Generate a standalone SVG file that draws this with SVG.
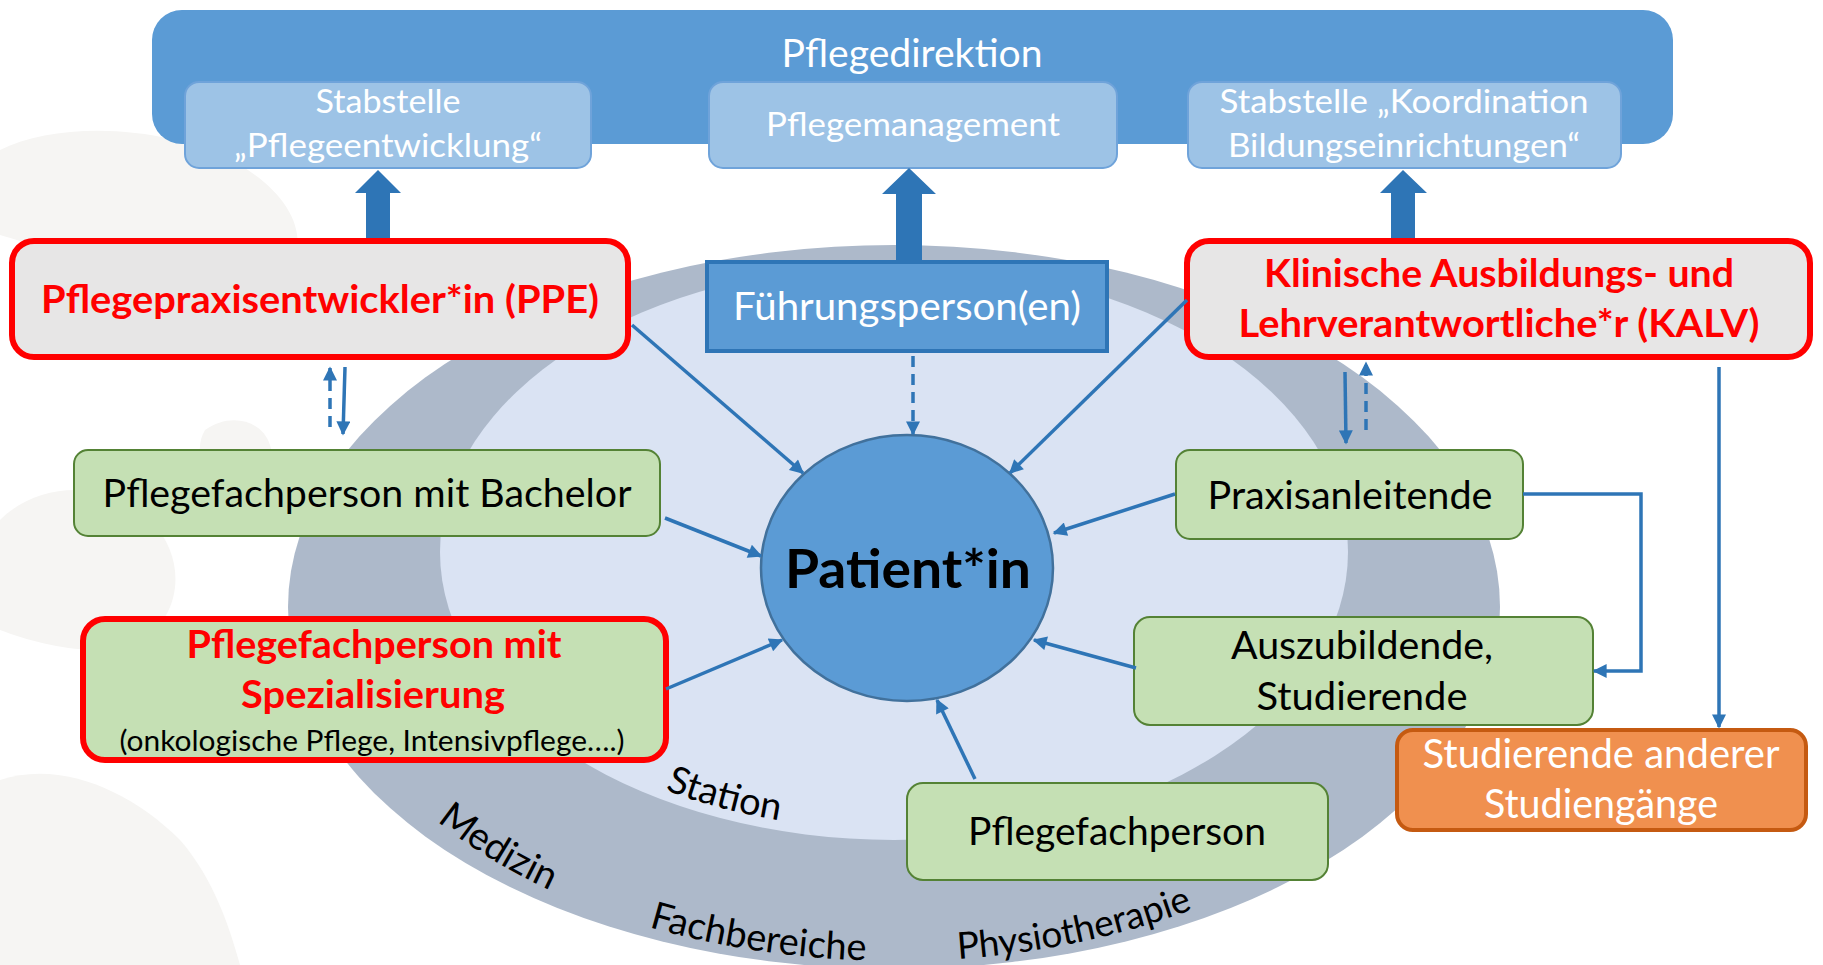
<svg xmlns="http://www.w3.org/2000/svg" width="1823" height="965" viewBox="0 0 1823 965">
<style>
  text { font-family: Lato, "Liberation Sans", sans-serif; }
  .w { fill: #ffffff; }
  .k { fill: #000000; }
  .r { fill: #FF0000; font-weight: bold; }
  .sub { fill: #9DC3E6; stroke: #6FA3DA; stroke-width: 2; }
  .green { fill: #C5E0B4; stroke: #548235; stroke-width: 2; }
  .redbox { fill: #E7E6E6; stroke: #FF0000; stroke-width: 6; }
  .redgreen { fill: #C5E0B4; stroke: #FF0000; stroke-width: 6; }
  .con { fill: none; stroke: #2E75B6; stroke-width: 3.5; marker-end: url(#ah); }
  .dash { stroke-dasharray: 11 7; }
  .thick { fill: #2E75B6; }
  .ring { fill: #000000; font-size: 38px; }
</style>
<defs>
  <marker id="ah" viewBox="0 0 10 10" refX="9" refY="5" markerWidth="17" markerHeight="14" markerUnits="userSpaceOnUse" orient="auto">
    <path d="M0,0 L10,5 L0,10 z" fill="#2E75B6"/>
  </marker>
  <path id="pStation" d="M 665 790 A 446 278 0 0 0 900 830"/>
  <path id="pMedizin" d="M 437 821 A 575 356 0 0 0 894 961"/>
  <path id="pFach" d="M 649 927 A 575 356 0 0 0 1100 937"/>
  <path id="pPhysio" d="M 958 959 A 575 356 0 0 0 1300 857"/>
</defs>
<rect width="1823" height="965" fill="#ffffff"/>
<g id="watermark" fill="#F6F5F3">
  <path d="M0 150 C60 120 170 125 240 165 C290 195 310 235 290 270 C230 250 160 240 100 250 C50 255 20 240 0 235 Z"/>
  <path d="M0 520 C40 480 110 480 150 520 C190 560 180 620 140 640 C100 660 40 645 0 630 Z"/>
  <path d="M0 780 C60 760 130 790 180 840 C215 880 230 930 240 965 L0 965 Z"/>
  <path d="M205 430 C230 412 262 420 270 445 C278 470 255 492 230 485 C205 478 192 452 205 430 Z"/>
</g>
<g id="ring">
  <ellipse cx="894" cy="607" rx="606" ry="362" fill="#ADB9CA"/>
  <ellipse cx="894" cy="552" rx="454" ry="288" fill="#DAE3F3"/>
  <text class="ring"><textPath href="#pStation">Station</textPath></text>
  <text class="ring"><textPath href="#pMedizin">Medizin</textPath></text>
  <text class="ring"><textPath href="#pFach">Fachbereiche</textPath></text>
  <text class="ring" style="font-size:37px"><textPath href="#pPhysio">Physiotherapie</textPath></text>
</g>
<g id="pflegedirektion">
  <rect x="152" y="10" width="1521" height="134" rx="30" fill="#5B9BD5"/>
  <text class="w" x="912" y="67" font-size="39" text-anchor="middle" textLength="261" lengthAdjust="spacingAndGlyphs">Pflegedirektion</text>
</g>
<g id="stabstelle-pflegeentwicklung">
  <rect class="sub" x="185" y="82" width="406" height="86" rx="14"/>
  <text class="w" x="388" y="113" font-size="33" text-anchor="middle" textLength="145" lengthAdjust="spacingAndGlyphs">Stabstelle</text>
  <text class="w" x="388" y="157" font-size="33" text-anchor="middle" textLength="308" lengthAdjust="spacingAndGlyphs">„Pflegeentwicklung“</text>
</g>
<g id="pflegemanagement">
  <rect class="sub" x="709" y="82" width="408" height="86" rx="14"/>
  <text class="w" x="913" y="136" font-size="33" text-anchor="middle" textLength="294" lengthAdjust="spacingAndGlyphs">Pflegemanagement</text>
</g>
<g id="stabstelle-koordination">
  <rect class="sub" x="1188" y="82" width="433" height="86" rx="14"/>
  <text class="w" x="1404" y="113" font-size="33" text-anchor="middle" textLength="369" lengthAdjust="spacingAndGlyphs">Stabstelle „Koordination</text>
  <text class="w" x="1404" y="157" font-size="33" text-anchor="middle" textLength="352" lengthAdjust="spacingAndGlyphs">Bildungseinrichtungen“</text>
</g>
<g id="thick-arrows">
  <polygon class="thick" points="366,240 366,193 355,193 378,170 401,193 390,193 390,240"/>
  <polygon class="thick" points="896,262 896,194 882,194 909,168 936,194 922,194 922,262"/>
  <polygon class="thick" points="1391,240 1391,193 1380,193 1403,170 1427,193 1415,193 1415,240"/>
</g>
<g id="ppe">
  <rect class="redbox" x="12" y="241" width="616" height="116" rx="22"/>
  <text class="r" x="320" y="313" font-size="39" text-anchor="middle" textLength="558" lengthAdjust="spacingAndGlyphs">Pflegepraxisentwickler*in (PPE)</text>
</g>
<g id="fuehrungspersonen">
  <rect x="707" y="262" width="400" height="89" fill="#5B9BD5" stroke="#2E75B6" stroke-width="4"/>
  <text class="w" x="907" y="320" font-size="39" text-anchor="middle" textLength="348" lengthAdjust="spacingAndGlyphs">Führungsperson(en)</text>
</g>
<g id="kalv">
  <rect class="redbox" x="1187" y="241" width="623" height="116" rx="22"/>
  <text class="r" x="1499" y="287" font-size="39" text-anchor="middle" textLength="470" lengthAdjust="spacingAndGlyphs">Klinische Ausbildungs- und</text>
  <text class="r" x="1499" y="337" font-size="39" text-anchor="middle" textLength="521" lengthAdjust="spacingAndGlyphs">Lehrverantwortliche*r (KALV)</text>
</g>
<g id="bachelor">
  <rect class="green" x="74" y="450" width="586" height="86" rx="14"/>
  <text class="k" x="367" y="507" font-size="39" text-anchor="middle" textLength="529" lengthAdjust="spacingAndGlyphs">Pflegefachperson mit Bachelor</text>
</g>
<g id="spezialisierung">
  <rect class="redgreen" x="83" y="619" width="583" height="141" rx="22"/>
  <text class="r" x="374" y="658" font-size="39" text-anchor="middle" textLength="375" lengthAdjust="spacingAndGlyphs">Pflegefachperson mit</text>
  <text class="r" x="373" y="708" font-size="39" text-anchor="middle" textLength="264" lengthAdjust="spacingAndGlyphs">Spezialisierung</text>
  <text class="k" x="372" y="751" font-size="29" text-anchor="middle" textLength="505" lengthAdjust="spacingAndGlyphs">(onkologische Pflege, Intensivpflege….)</text>
</g>
<g id="patient">
  <ellipse cx="907" cy="568" rx="146" ry="133" fill="#5B9BD5" stroke="#41719C" stroke-width="2.5"/>
  <text class="k" x="908" y="588" font-size="54" font-weight="bold" text-anchor="middle" textLength="246" lengthAdjust="spacingAndGlyphs">Patient*in</text>
</g>
<g id="praxisanleitende">
  <rect class="green" x="1176" y="450" width="347" height="89" rx="14"/>
  <text class="k" x="1350" y="509" font-size="39" text-anchor="middle" textLength="285" lengthAdjust="spacingAndGlyphs">Praxisanleitende</text>
</g>
<g id="auszubildende">
  <rect class="green" x="1134" y="617" width="459" height="108" rx="16"/>
  <text class="k" x="1362" y="659" font-size="39" text-anchor="middle" textLength="262" lengthAdjust="spacingAndGlyphs">Auszubildende,</text>
  <text class="k" x="1362" y="710" font-size="39" text-anchor="middle" textLength="211" lengthAdjust="spacingAndGlyphs">Studierende</text>
</g>
<g id="pflegefachperson">
  <rect class="green" x="907" y="783" width="421" height="97" rx="16"/>
  <text class="k" x="1117" y="845" font-size="39" text-anchor="middle" textLength="298" lengthAdjust="spacingAndGlyphs">Pflegefachperson</text>
</g>
<g id="studierende-anderer">
  <rect x="1397" y="730" width="409" height="100" rx="16" fill="#F0904F" stroke="#C55A11" stroke-width="4"/>
  <text class="w" x="1601" y="768" font-size="40" text-anchor="middle" textLength="357" lengthAdjust="spacingAndGlyphs">Studierende anderer</text>
  <text class="w" x="1601" y="818" font-size="40" text-anchor="middle" textLength="234" lengthAdjust="spacingAndGlyphs">Studiengänge</text>
</g>
<g id="connectors">
  <line class="con" x1="632" y1="325" x2="803" y2="473"/>
  <line class="con dash" x1="913" y1="356" x2="913" y2="434"/>
  <line class="con" x1="1187" y1="300" x2="1010" y2="473"/>
  <line class="con" x1="665" y1="518" x2="761" y2="556"/>
  <line class="con" x1="666" y1="689" x2="782" y2="640"/>
  <line class="con" x1="1175" y1="494" x2="1054" y2="533"/>
  <line class="con" x1="1136" y1="668" x2="1034" y2="640"/>
  <line class="con" x1="975" y1="779" x2="937" y2="700"/>
  <line class="con dash" x1="330" y1="427" x2="330" y2="368"/>
  <line class="con" x1="345" y1="367" x2="343" y2="434"/>
  <line class="con" x1="1345" y1="372" x2="1346" y2="443"/>
  <line class="con dash" x1="1366" y1="430" x2="1366" y2="363"/>
  <polyline class="con" points="1523,494 1641,494 1641,671 1594,671"/>
  <line class="con" x1="1719" y1="367" x2="1719" y2="727"/>
</g>
</svg>
